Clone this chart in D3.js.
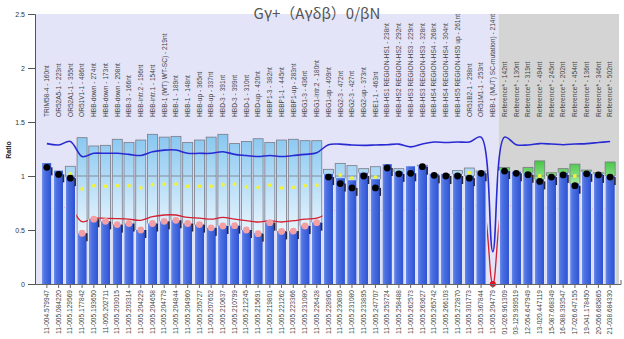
<!DOCTYPE html>
<html>
<head>
<meta charset="utf-8">
<script src="https://cdn.jsdelivr.net/npm/d3@7"></script>
<style>
  body { margin: 0; background: #fff; }
  text { font-family: Arial, "Liberation Sans", sans-serif; }
</style>
</head>
<body>
<svg id="chart" width="624" height="339"></svg>
<script>
// Probe names (top labels)
const probeNames = [
  "TRIM58-4 - 160nt", "OR52A5-1 - 223nt", "OR52A1-1 - 355nt", "OR51V1-1 - 486nt",
  "HBB-down - 274nt", "HBB-down - 173nt", "HBB-down - 208nt", "HBB-3 - 166nt",
  "HBB-intr.2 - 196nt", "HBB-intr.1 - 154nt", "HBB-1 (WT) WT-SC) - 219nt", "HBB-1 - 189nt",
  "HBB-1 - 148nt", "HBB-up - 365nt", "HBB-up - 337nt", "HBD-3 - 391nt", "HBD-3 - 399nt",
  "HBD-1 - 310nt", "HBD-up - 420nt", "HBBP1-3 - 382nt", "HBBP1-1 - 445nt", "HBBP1-up - 283nt",
  "HBG1-3 - 436nt", "HBG1-intr.2 - 180nt", "HBG1-up - 409nt", "HBG2-3 - 472nt", "HBG2-3 - 427nt",
  "HBG2-up - 373nt", "HBE1-1 - 463nt", "HBB-HS1 REGION-HS1 - 238nt", "HBB-HS2 REGION-HS2 - 292nt",
  "HBB-HS3 REGION-HS3 - 229nt", "HBB-HS3 REGION-HS3 - 328nt", "HBB-HS4 REGION-HS4 - 268nt",
  "HBB-HS4 REGION-HS4 - 304nt", "HBB-HS5 REGION-HS5 up - 261nt", "OR51B2-1 - 298nt",
  "OR51M1-1 - 253nt", "HBB-1 (MUT) SC-mutation) - 214nt",
  "Reference* - 142nt", "Reference* - 130nt", "Reference* - 319nt", "Reference* - 494nt",
  "Reference* - 245nt", "Reference* - 202nt", "Reference* - 454nt", "Reference* - 136nt",
  "Reference* - 346nt", "Reference* - 502nt"
];

// Chromosome positions (bottom labels)
const chromPositions = [
  "11-004.579947", "11-005.084220", "11-005.129569", "11-005.177842", "11-005.193650",
  "11-005.202711", "11-005.203015", "11-005.203314", "11-005.204229", "11-005.204658",
  "11-005.204779", "11-005.204844", "11-005.204960", "11-005.205727", "11-005.207652",
  "11-005.210637", "11-005.210799", "11-005.212245", "11-005.215691", "11-005.219801",
  "11-005.221262", "11-005.223366", "11-005.231080", "11-005.226428", "11-005.228965",
  "11-005.230805", "11-005.231080", "11-005.233895", "11-005.247707", "11-005.253724",
  "11-005.258488", "11-005.262573", "11-005.263627", "11-005.265742", "11-005.266103",
  "11-005.272870", "11-005.301773", "11-005.367844", "11-005.204779",
  "01-026.961309", "03-129.999519", "12-054.647949", "13-020.447119", "15-087.668349",
  "16-088.393547", "17-026.647155", "19-041.178450", "20-056.685865", "21-038.684330"
];

// Probe ratio (bar height)
const barRatios = [
  1.12, 1.05, 0.99,
  0.47, 0.60, 0.58, 0.55, 0.56, 0.50, 0.56, 0.58, 0.59, 0.56, 0.55, 0.52,
  0.54, 0.54, 0.50, 0.47, 0.57, 0.49, 0.49, 0.54, 0.57,
  1.02, 0.98, 0.96, 1.03, 0.97, 1.11, 1.04, 1.09, 1.09, 1.02, 1.02, 1.02, 1.00, 1.04,
  0,
  1.05, 1.04, 1.03, 0.97, 1.00, 1.03, 0.93, 1.04, 1.02, 1.00
];

// Dot value and dot kind (n = normal, d = deletion, m = mutation)
const dotValues = [
  1.08, 1.015, 0.98,
  0.47, 0.60, 0.58, 0.55, 0.56, 0.50, 0.56, 0.58, 0.59, 0.56, 0.55, 0.52,
  0.537, 0.54, 0.50, 0.466, 0.568, 0.487, 0.49, 0.537, 0.568,
  0.99, 0.93, 0.89, 1.00, 0.89, 1.074, 1.02, 1.025, 1.086, 1.006, 1.0, 1.0, 0.98, 1.025,
  0.0,
  1.046, 1.025, 1.012, 0.95, 0.99, 1.01, 0.91, 1.02, 1.01, 0.99
];
const dotKinds = [
  "n", "n", "n",
  "d", "d", "d", "d", "d", "d", "d", "d", "d", "d", "d", "d",
  "d", "d", "d", "d", "d", "d", "d", "d", "d",
  "n", "n", "n", "n", "n", "n", "n", "n", "n", "n", "n", "n", "n", "n",
  "m",
  "n", "n", "n", "n", "n", "n", "n", "n", "n", "n"
];

// Upper edge of the confidence box
const boxHigh = [
  1.08, 1.04, 1.09,
  1.355, 1.278, 1.284, 1.34, 1.31, 1.333, 1.386, 1.36, 1.367, 1.31, 1.333, 1.36,
  1.386, 1.30, 1.32, 1.345, 1.31, 1.333, 1.34, 1.327, 1.327,
  1.062, 1.117, 1.096, 1.068, 1.086, 1.08, 1.068, 1.06, 1.10, 1.01, 1.01, 1.05, 1.074, 1.046,
  null,
  1.08, 1.02, 1.08, 1.14, 1.03, 1.068, 1.11, 1.055, 1.03, 1.13
];

// Yellow marker values
const yellowValues = [
  null, null, 1.02,
  0.88, 0.91, 0.905, 0.91, 0.91, 0.89, 0.92, 0.925, 0.925, 0.905, 0.905, 0.905,
  0.92, 0.925, 0.90, 0.895, 0.915, 0.89, 0.895, 0.91, 0.915,
  null, 1.01, 0.98, null, 0.99, null, null, null, null, null, null, null, 1.03, null,
  null,
  null, null, null, 1.0, null, null, 1.0, null, null, null
];

// Upper / lower limit lines
const upperLimit = [
  1.30, 1.287, 1.32,
  1.18, 1.21, 1.21, 1.21, 1.20, 1.19, 1.225, 1.24, 1.24, 1.21, 1.21, 1.21,
  1.225, 1.20, 1.19, 1.18, 1.19, 1.18, 1.19, 1.20, 1.216,
  1.29, 1.295, 1.287, 1.284, 1.287, 1.29, 1.295, 1.27, 1.296, 1.315, 1.31, 1.315, 1.315, 1.36,
  0.30,
  1.36, 1.29, 1.287, 1.30, 1.296, 1.29, 1.296, 1.30, 1.31, 1.32
];
const lowerLimit = [
  0.694, 0.707, 0.70,
  0.577, 0.608, 0.608, 0.605, 0.60, 0.59, 0.623, 0.639, 0.639, 0.616, 0.61, 0.60,
  0.617, 0.60, 0.586, 0.574, 0.586, 0.574, 0.586, 0.60, 0.61,
  0.654, 0.70, 0.69, 0.68, 0.685, 0.685, 0.69, 0.68, 0.69, 0.71, 0.70, 0.695, 0.695, 0.745,
  0.0,
  0.75, 0.69, 0.70, 0.705, 0.70, 0.695, 0.69, 0.695, 0.69, 0.705
];

const yTicks = [0, 0.5, 1, 1.5, 2, 2.5];

const svg = d3.select("#chart");
const idx = d3.range(probeNames.length);
const isRef = probeNames.map(n => n.startsWith("Reference"));
const firstRef = isRef.indexOf(true);

const x = d3.scaleBand().domain(idx).range([41, 616]).padding(0);
const y = d3.scaleLinear().domain([0, 2.5]).range([284, 14]);
const step = x.step();
const cx = i => x(i) + step / 2;

// gradients
const defs = svg.append("defs");
const barGrad = defs.append("linearGradient").attr("id", "barGrad")
  .attr("x1", 0).attr("x2", 1).attr("y1", 0).attr("y2", 0);
[["0%", "#dfe4f8"], ["9%", "#dfe4f8"], ["13%", "#6a88ea"], ["32%", "#4c71e2"],
 ["86%", "#2f54d3"], ["90%", "#dfe4f8"], ["100%", "#dfe4f8"]]
  .forEach(s => barGrad.append("stop").attr("offset", s[0]).attr("stop-color", s[1]));
const boxGrad = defs.append("linearGradient").attr("id", "boxGrad")
  .attr("gradientUnits", "userSpaceOnUse")
  .attr("x1", 0).attr("x2", 0).attr("y1", y(1.4)).attr("y2", y(0.5));
[["0%", "#86c6f0"], ["100%", "#e6f4fd"]]
  .forEach(s => boxGrad.append("stop").attr("offset", s[0]).attr("stop-color", s[1]));
const refGrad = defs.append("linearGradient").attr("id", "refGrad")
  .attr("gradientUnits", "userSpaceOnUse")
  .attr("x1", 0).attr("x2", 0).attr("y1", y(1.15)).attr("y2", y(0.9));
[["0%", "#40c440"], ["100%", "#b4eeb0"]]
  .forEach(s => refGrad.append("stop").attr("offset", s[0]).attr("stop-color", s[1]));

// plot backgrounds
svg.append("rect").attr("x", 35).attr("y", y(2.5))
  .attr("width", x(firstRef) - 35).attr("height", y(0) - y(2.5)).attr("fill", "#e4e4f8");
svg.append("rect").attr("x", x(firstRef)).attr("y", y(2.5))
  .attr("width", 619 - x(firstRef)).attr("height", y(0) - y(2.5)).attr("fill", "#d4d4d4");

// title
svg.append("text").attr("x", 317).attr("y", 19).attr("text-anchor", "middle")
  .style("font-family", "'Noto Sans CJK SC', 'Noto Sans', sans-serif")
  .style("font-size", "15px").attr("fill", "#555").text("Gγ+（Aγδβ）0/βN");

// probe name labels, reading upward from a common baseline
svg.append("g").selectAll("text").data(idx).join("text")
  .attr("transform", i => `translate(${cx(i) + 2.3},117) rotate(-90)`)
  .attr("text-anchor", "start").attr("fill", "#444")
  .style("font-size", "6.6px").text(i => probeNames[i]);

// confidence boxes (run down behind the bars)
const boxW = 10;
const boxes = svg.append("g").selectAll("g").data(idx.filter(i => boxHigh[i] != null)).join("g");
boxes.append("rect")
  .attr("x", i => cx(i) - boxW / 2).attr("y", i => y(boxHigh[i]))
  .attr("width", boxW).attr("height", i => y(0) - y(boxHigh[i]))
  .attr("fill", i => isRef[i] ? "url(#refGrad)" : "url(#boxGrad)")
  .attr("stroke", "#7a7a86").attr("stroke-width", 0.8);
boxes.append("line")
  .attr("x1", i => cx(i) - boxW / 2).attr("x2", i => cx(i) + boxW / 2)
  .attr("y1", y(1)).attr("y2", y(1)).attr("stroke", "#7a7a86").attr("stroke-width", 0.8);

// limit lines
const line = vals => d3.line()
  .x((d, i) => cx(i)).y(d => y(d))
  .curve(d3.curveCatmullRom.alpha(0.5))(vals);
svg.append("path").attr("d", line(lowerLimit)).attr("fill", "none")
  .attr("stroke", "#d42030").attr("stroke-width", 1.3);
svg.append("path").attr("d", line(upperLimit)).attr("fill", "none")
  .attr("stroke", "#2a2ad2").attr("stroke-width", 1.6);

// ratio bars
svg.append("g").selectAll("rect").data(idx.filter(i => barRatios[i] > 0)).join("rect")
  .attr("x", i => x(i)).attr("width", step)
  .attr("y", i => y(barRatios[i])).attr("height", i => y(0) - y(barRatios[i]))
  .attr("fill", "url(#barGrad)");

// small dark error marks beside the dots
svg.append("g").selectAll("rect").data(idx.filter(i => dotKinds[i] !== "m")).join("rect")
  .attr("x", i => cx(i) + 4).attr("y", i => y(dotValues[i]))
  .attr("width", 1.6).attr("height", 8).attr("fill", "#252540");

// yellow markers
svg.append("g").selectAll("circle").data(idx.filter(i => yellowValues[i] != null)).join("circle")
  .attr("cx", cx).attr("cy", i => y(yellowValues[i])).attr("r", 1.9)
  .attr("fill", "#f2f23c");

// ratio dots
const dotColor = { n: "#000", d: "#f3a0a4", m: "#e4141e" };
svg.append("g").selectAll("circle").data(idx).join("circle")
  .attr("cx", cx).attr("cy", i => y(dotValues[i]))
  .attr("r", i => dotKinds[i] === "m" ? 3 : 3.4)
  .attr("fill", i => dotColor[dotKinds[i]]);

// y axis
const yAxis = svg.append("g").attr("transform", "translate(35,0)")
  .call(d3.axisLeft(y).tickValues(yTicks).tickSize(7).tickFormat(d3.format("")));
yAxis.select(".domain").attr("stroke", "#555");
yAxis.selectAll(".tick line").attr("stroke", "#555");
yAxis.selectAll(".tick text").attr("fill", "#333").style("font-size", "7px")
  .style("font-family", "Arial, 'Liberation Sans', sans-serif");

svg.append("text").attr("transform", "translate(11,150) rotate(-90)")
  .attr("text-anchor", "middle").style("font-size", "7px").style("font-weight", "bold")
  .attr("fill", "#222").text("Ratio");

// x axis
const xAxis = svg.append("g").attr("transform", `translate(0,${y(0)})`)
  .call(d3.axisBottom(x).tickSize(4).tickSizeOuter(0).tickFormat(i => chromPositions[i]));
xAxis.select(".domain").attr("stroke", "#666").attr("d", "M35,0.5H621V-4");
xAxis.selectAll(".tick line").attr("stroke", "#666");
xAxis.selectAll(".tick text")
  .attr("transform", "rotate(-90)").attr("text-anchor", "end")
  .attr("x", -6).attr("y", 0).attr("dy", "0.32em")
  .attr("fill", "#444").style("font-size", "6.6px")
  .style("font-family", "Arial, 'Liberation Sans', sans-serif");
</script>
</body>
</html>
